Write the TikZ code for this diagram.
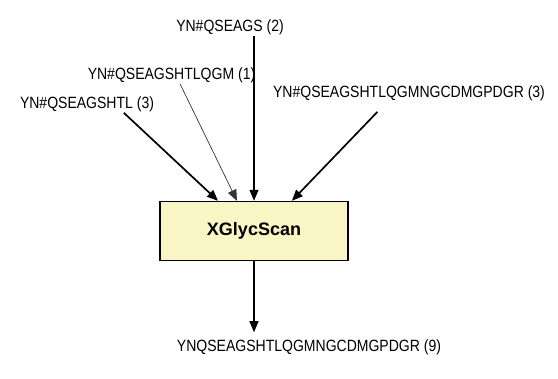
\documentclass[tikz,border=0pt]{standalone}
\usepackage{fontspec}
\setmainfont{Liberation Sans}
\newfontfamily\narrowfont[FakeStretch=0.86]{Liberation Sans}
\usetikzlibrary{arrows.meta,calc}
\definecolor{boxfill}{RGB}{250,245,196}
\tikzset{
  lbl/.style={inner sep=1bp, font=\narrowfont\fontsize{16.3bp}{18bp}\selectfont},
  proc/.style={draw=black, line width=1.4bp, fill=boxfill, minimum width=188bp, minimum height=59bp, inner sep=0pt, font=\fontsize{18bp}{20bp}\selectfont\bfseries},
  arr/.style={-{Triangle[length=11bp,width=9bp]}, line width=1.2bp},
  thickarr/.style={arr, line width=1.7bp},
  thinarr/.style={arr, line width=0.7bp, draw=black!80}
}
\begin{document}
\begin{tikzpicture}[x=1bp,y=-1bp]
\useasboundingbox (0,0) rectangle (558,378);
\node[proc] (b) at (254,231) {XGlycScan};
\node[lbl] (l2) at (230,27) {YN\#QSEAGS (2)};
\node[lbl] (l1) at (171.5,75) {YN\#QSEAGSHTLQGM (1)};
\node[lbl] (l3) at (87,104) {YN\#QSEAGSHTL (3)};
\node[lbl] (r3) at (409,93) {YN\#QSEAGSHTLQGMNGCDMGPDGR (3)};
\node[lbl] (out) at (309,347) {YNQSEAGSHTLQGMNGCDMGPDGR (9)};
\draw[arr] (l2.south -| b.north) -- (b.north);
\draw[thinarr] ($(l1.south west)!0.55!(l1.south east)$) -- ($(b.north west)!0.41!(b.north east)$);
\draw[thickarr] ($(l3.south west)!0.77!(l3.south east)$) -- ($(b.north west)!0.31!(b.north east)$);
\draw[thickarr] ($(r3.south west)!0.385!(r3.south east)+(0,10)$) -- ($(b.north west)!0.70!(b.north east)$);
\draw[arr, shorten >=6bp] (b.south) -- (b.south |- out.north);
\end{tikzpicture}
\end{document}
